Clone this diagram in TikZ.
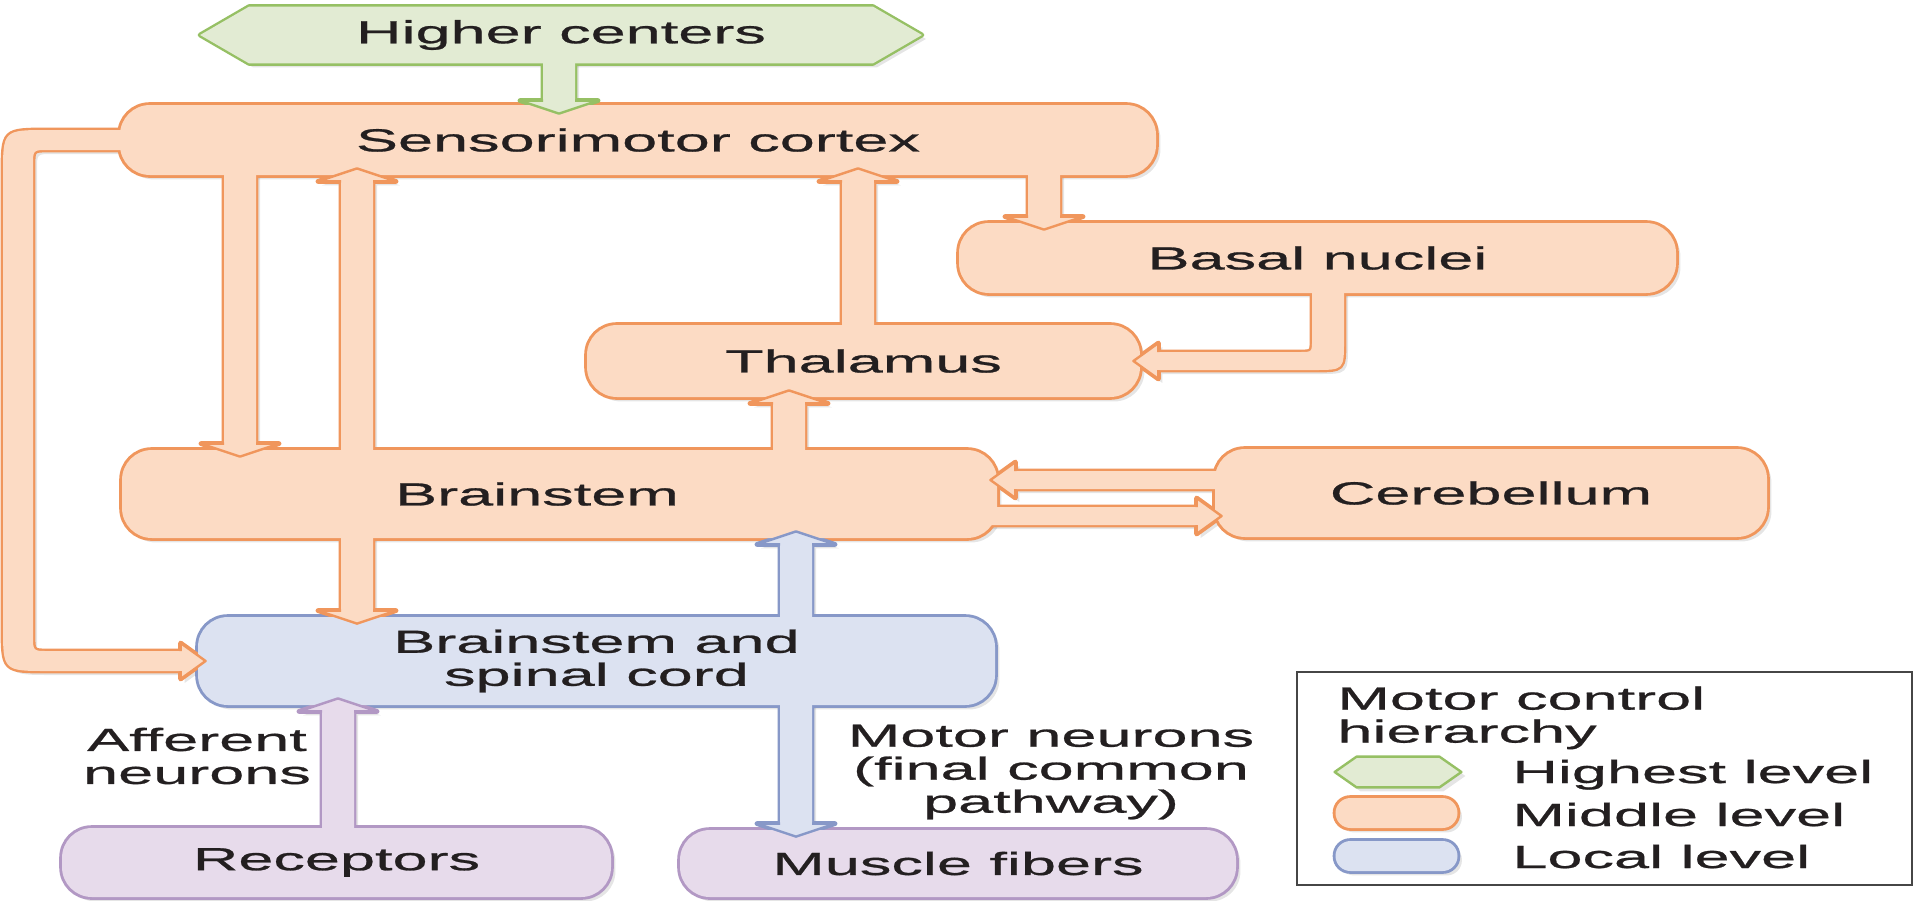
\documentclass[tikz,border=0pt]{standalone}
\usepackage{fontspec}
\setmainfont[FakeStretch=1.97, FakeBold=0.8]{Liberation Sans}
\usetikzlibrary{calc}
\definecolor{ofill}{RGB}{252,219,196}
\definecolor{oline}{RGB}{240,150,92}
\definecolor{gfill}{RGB}{226,235,211}
\definecolor{gline}{RGB}{150,192,100}
\definecolor{bfill}{RGB}{220,226,241}
\definecolor{bline}{RGB}{135,152,200}
\definecolor{pfill}{RGB}{231,219,235}
\definecolor{pline}{RGB}{178,152,196}
\definecolor{txt}{RGB}{35,31,32}
\definecolor{legc}{RGB}{70,70,70}
\pgfdeclarelayer{bg}\pgfdeclarelayer{shadow}\pgfdeclarelayer{outl}\pgfdeclarelayer{afill}\pgfdeclarelayer{heads}
\pgfsetlayers{bg,shadow,outl,afill,main,heads}
\newcommand\lbl{\fontsize{16pt}{16.5pt}\selectfont}
% generic fat arrow: #1 line colour, #2 fill colour, #3 closed outline path, #4 open head path
\newcommand\fatarrow[4]{%
 \begin{pgfonlayer}{shadow}\fill[black, opacity=.10, transform canvas={xshift=2pt,yshift=-2pt}] #3;\end{pgfonlayer}%
 \begin{pgfonlayer}{outl}\draw[#1, line width=2.4pt, line join=round] #3;\end{pgfonlayer}%
 \begin{pgfonlayer}{afill}\fill[#2] #3;\end{pgfonlayer}%
 \begin{pgfonlayer}{heads}\filldraw[draw=#1, fill=#2, line width=1.2pt, line join=round] #4;\end{pgfonlayer}}
% vertical arrow: #3 tail, #4 tip, #5 = 1 (down) or -1 (up)
\newcommand\varr[5]{\fatarrow{#1}{#2}{([shift={(-16,0)}]#3) -- ([shift={(-16,{-13*(#5)})}]#4) -- ([shift={(-39,{-13*(#5)})}]#4) -- (#4) -- ([shift={(39,{-13*(#5)})}]#4) -- ([shift={(16,{-13*(#5)})}]#4) -- ([shift={(16,0)}]#3) -- cycle}{([shift={(-16,{-13*(#5)})}]#4) -- ([shift={(-39,{-13*(#5)})}]#4) -- (#4) -- ([shift={(39,{-13*(#5)})}]#4) -- ([shift={(16,{-13*(#5)})}]#4)}}
% horizontal arrow: #5 = 1 (right) or -1 (left)
\newcommand\harr[5]{\fatarrow{#1}{#2}{([shift={(0,-9)}]#3) -- ([shift={({-25*(#5)},-9)}]#4) -- ([shift={({-25*(#5)},-18)}]#4) -- (#4) -- ([shift={({-25*(#5)},18)}]#4) -- ([shift={({-25*(#5)},9)}]#4) -- ([shift={(0,9)}]#3) -- cycle}{([shift={({-25*(#5)},-9)}]#4) -- ([shift={({-25*(#5)},-18)}]#4) -- (#4) -- ([shift={({-25*(#5)},18)}]#4) -- ([shift={({-25*(#5)},9)}]#4)}}
% outline + shadow of a box node
\newcommand\boxedge[3]{%
 \begin{pgfonlayer}{shadow}\fill[black, opacity=.10, transform canvas={xshift=2pt,yshift=-2pt}, rounded corners=#3] (#1.south west) rectangle (#1.north east);\end{pgfonlayer}%
 \begin{pgfonlayer}{outl}\draw[#2, line width=2.4pt, rounded corners=#3] (#1.south west) rectangle (#1.north east);\end{pgfonlayer}}
\begin{document}
\begin{tikzpicture}[x=0.5pt, y=-0.5pt,
  box/.style={rectangle, inner sep=0pt, font=\lbl, text=txt, align=center, rounded corners=15pt},
  midbox/.style={box, fill=ofill},
  locbox/.style={box, fill=bfill},
  effbox/.style={box, fill=pfill},
  lab/.style={font=\lbl, text=txt, align=center, inner sep=0pt}]
\useasboundingbox (0,0) rectangle (1915,900);
\begin{pgfonlayer}{bg}\fill[white] (0,0) rectangle (1915,900);\end{pgfonlayer}

% ---------- nodes ----------
\node[box, minimum width=360.5pt, minimum height=28pt] (hc) at (561,35) {Higher centers};
\node[midbox, minimum width=518pt, minimum height=35pt] (cortex) at (638,140) {Sensorimotor cortex};
\node[midbox, minimum width=358.5pt, minimum height=35pt] (basal) at (1317.5,258) {Basal nuclei};
\node[midbox, minimum width=276.5pt, minimum height=36pt] (thal) at (863.5,361) {Thalamus};
\node[midbox, minimum width=437.5pt, minimum height=44pt] (brainstem) at (559.5,494) {\hspace*{-22.5pt}Brainstem};
\node[midbox, minimum width=276pt, minimum height=44pt] (cereb) at (1491,493) {Cerebellum};
\node[locbox, minimum width=398.5pt, minimum height=44pt] (spinal) at (596.5,661) {Brainstem and\\spinal cord};
\node[effbox, minimum width=274.5pt, minimum height=34.5pt] (recep) at (336.5,862.5) {Receptors};
\node[effbox, minimum width=278pt, minimum height=33.5pt] (muscle) at (958,863.5) {Muscle fibers};

\boxedge{cortex}{oline}{15pt}
\boxedge{basal}{oline}{15pt}
\boxedge{thal}{oline}{15pt}
\boxedge{brainstem}{oline}{15pt}
\boxedge{cereb}{oline}{15pt}
\boxedge{spinal}{bline}{15pt}
\boxedge{recep}{pline}{15pt}
\boxedge{muscle}{pline}{15pt}

\node[lab] (aff) at (197,756) {Afferent\\neurons};
\node[lab] (mn) at (1051,772) {Motor neurons\\(final common\\pathway)};

% ---------- connector guide coordinates ----------
\coordinate (xg) at (559,0);
\coordinate (xa) at (240,0);
\coordinate (xb) at (357,0);
\coordinate (xc) at (858,0);
\coordinate (xd) at (1044,0);
\coordinate (xe) at (789,0);
\coordinate (xf) at (796,0);
\coordinate (xh) at (338,0);
\coordinate (xi) at (1328,0);
\coordinate (xl) at (18,0);
\coordinate (ya) at (0,480);
\coordinate (yb) at (0,516);

\coordinate (g1) at ($(hc.south -| xg)+(0,-10)$);
\coordinate (g2) at ($(cortex.north -| xg)+(0,9)$);
\coordinate (a1) at ($(cortex.south -| xa)+(0,-10)$);
\coordinate (a2) at ($(brainstem.north -| xa)+(0,7)$);
\coordinate (b1) at ($(brainstem.north -| xb)+(0,10)$);
\coordinate (b2) at ($(cortex.south -| xb)+(0,-7)$);
\coordinate (c1) at ($(thal.north -| xc)+(0,10)$);
\coordinate (c2) at ($(cortex.south -| xc)+(0,-7)$);
\coordinate (d1) at ($(cortex.south -| xd)+(0,-10)$);
\coordinate (d2) at ($(basal.north -| xd)+(0,7)$);
\coordinate (e1) at ($(brainstem.north -| xe)+(0,10)$);
\coordinate (e2) at ($(thal.south -| xe)+(0,-7)$);
\coordinate (s1) at ($(brainstem.south -| xb)+(0,-10)$);
\coordinate (s2) at ($(spinal.north -| xb)+(0,7)$);
\coordinate (f1) at ($(spinal.north -| xf)+(0,10)$);
\coordinate (f2) at ($(brainstem.south -| xf)+(0,-7)$);
\coordinate (m1) at ($(spinal.south -| xf)+(0,-10)$);
\coordinate (m2) at ($(muscle.north -| xf)+(0,7)$);
\coordinate (r1) at ($(recep.north -| xh)+(0,10)$);
\coordinate (r2) at ($(spinal.south -| xh)+(0,-7)$);
\coordinate (k1) at ($(cereb.west |- ya)+(10,0)$);
\coordinate (k2) at ($(brainstem.east |- ya)+(-7,0)$);
\coordinate (n1) at ($(brainstem.east |- yb)+(-10,0)$);
\coordinate (n2) at ($(cereb.west |- yb)+(7,0)$);
\coordinate (lp1) at (cortex.west);
\coordinate (lp2) at ($(spinal.west)+(8,0)$);
\coordinate (lc1) at (lp1 -| xl);
\coordinate (lc2) at (lp2 -| xl);
\coordinate (bt1) at (basal.south -| xi);
\coordinate (bt2) at ($(thal.east)+(-7,0)$);
\coordinate (bc) at (thal.east -| xi);

% ---------- connectors ----------
\varr{gline}{gfill}{g1}{g2}{1}
\varr{oline}{ofill}{a1}{a2}{1}
\varr{oline}{ofill}{b1}{b2}{-1}
\varr{oline}{ofill}{c1}{c2}{-1}
\varr{oline}{ofill}{d1}{d2}{1}
\varr{oline}{ofill}{e1}{e2}{-1}
\varr{oline}{ofill}{s1}{s2}{1}
\varr{bline}{bfill}{f1}{f2}{-1}
\varr{bline}{bfill}{m1}{m2}{1}
\varr{pline}{pfill}{r1}{r2}{-1}
\harr{oline}{ofill}{k1}{k2}{-1}
\harr{oline}{ofill}{n1}{n2}{1}
% cortex -> brainstem and spinal cord (loop on the left)
\fatarrow{oline}{ofill}{([shift={(10,-10)}]lp1) -- ([shift={(30,-10)}]lc1) .. controls ([shift={(-15,-10)}]lc1) .. ([shift={(-15,35)}]lc1) -- ([shift={(-15,-35)}]lc2) .. controls ([shift={(-15,10)}]lc2) .. ([shift={(30,10)}]lc2) -- ([shift={(-25,10)}]lp2) -- ([shift={(-25,18)}]lp2) -- (lp2) -- ([shift={(-25,-18)}]lp2) -- ([shift={(-25,-10)}]lp2) -- ([shift={(30,-10)}]lc2) .. controls ([shift={(15,-10)}]lc2) .. ([shift={(15,-25)}]lc2) -- ([shift={(15,25)}]lc1) .. controls ([shift={(15,10)}]lc1) .. ([shift={(30,10)}]lc1) -- ([shift={(10,10)}]lp1) -- cycle}{([shift={(-25,10)}]lp2) -- ([shift={(-25,18)}]lp2) -- (lp2) -- ([shift={(-25,-18)}]lp2) -- ([shift={(-25,-10)}]lp2)}
% basal nuclei -> thalamus
\fatarrow{oline}{ofill}{([shift={(-16,-10)}]bt1) -- ([shift={(-16,-21)}]bc) .. controls ([shift={(-16,-9)}]bc) .. ([shift={(-28,-9)}]bc) -- ([shift={(25,-9)}]bt2) -- ([shift={(25,-18)}]bt2) -- (bt2) -- ([shift={(25,18)}]bt2) -- ([shift={(25,9)}]bt2) -- ([shift={(-14,9)}]bc) .. controls ([shift={(16,9)}]bc) .. ([shift={(16,-21)}]bc) -- ([shift={(16,-10)}]bt1) -- cycle}{([shift={(25,-9)}]bt2) -- ([shift={(25,-18)}]bt2) -- (bt2) -- ([shift={(25,18)}]bt2) -- ([shift={(25,9)}]bt2)}

% ---------- hexagon (highest level) ----------
\def\hexpath{(hc.west) -- ([shift={(49,0)}]hc.north west) -- ([shift={(-49,0)}]hc.north east) -- (hc.east) -- ([shift={(-49,0)}]hc.south east) -- ([shift={(49,0)}]hc.south west) -- cycle}
\begin{pgfonlayer}{shadow}\fill[black, opacity=.10, transform canvas={xshift=2pt,yshift=-2pt}] \hexpath;\end{pgfonlayer}
\begin{pgfonlayer}{outl}\draw[gline, line width=2.4pt, line join=round] \hexpath;\end{pgfonlayer}
\begin{pgfonlayer}{afill}\fill[gfill] \hexpath;\end{pgfonlayer}

% ---------- legend ----------
\node[draw=legc, line width=1pt, minimum width=307.5pt, minimum height=106.5pt, inner sep=0pt] (legend) at (1604.5,778.5) {};
\node[lab, align=left, anchor=north west] (lgt) at (1337,686) {Motor control\\hierarchy};
\node[inner sep=0pt, minimum width=63pt, minimum height=15pt] (ihex) at (1398,772) {};
\fill[black, opacity=.10, transform canvas={xshift=2pt,yshift=-2pt}] (ihex.west) -- ([shift={(22,0)}]ihex.north west) -- ([shift={(-22,0)}]ihex.north east) -- (ihex.east) -- ([shift={(-22,0)}]ihex.south east) -- ([shift={(22,0)}]ihex.south west) -- cycle;
\filldraw[draw=gline, fill=gfill, line width=1.2pt, line join=round] (ihex.west) -- ([shift={(22,0)}]ihex.north west) -- ([shift={(-22,0)}]ihex.north east) -- (ihex.east) -- ([shift={(-22,0)}]ihex.south east) -- ([shift={(22,0)}]ihex.south west) -- cycle;
\node[midbox, minimum width=61pt, minimum height=15pt, rounded corners=7.5pt] (imid) at (1396.5,813) {};
\node[locbox, minimum width=61pt, minimum height=15pt, rounded corners=7.5pt] (iloc) at (1396.5,856) {};
\boxedge{imid}{oline}{7.5pt}
\boxedge{iloc}{bline}{7.5pt}
\node[lab, anchor=base west] (l1) at (1512,783) {Highest level};
\node[lab, anchor=base west] (l2) at (1512,826) {Middle level};
\node[lab, anchor=base west] (l3) at (1512,868) {Local level};
\end{tikzpicture}
\end{document}
